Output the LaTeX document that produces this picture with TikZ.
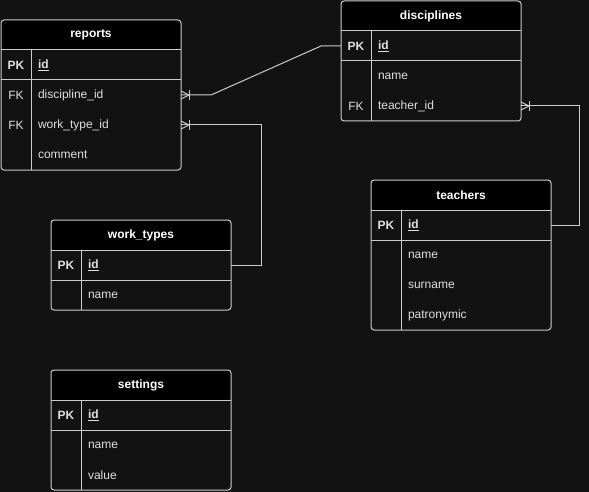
\documentclass[tikz,border=0pt]{standalone}
\usepackage{fontspec}
\setmainfont{Liberation Sans}
\usetikzlibrary{positioning}
\definecolor{canvas}{HTML}{121212}
\definecolor{wire}{HTML}{CCCCCC}
\definecolor{ink}{HTML}{E0E0E0}

\begin{document}
\begin{tikzpicture}[
    x=1pt, y=-1pt,
    every node/.style={inner sep=0pt, outer sep=0pt, text=ink, font=\fontsize{12}{14}\selectfont},
    tbl/.style={minimum width=180pt, anchor=north west},
    frame/.style={draw=wire, line width=1pt, rounded corners=3pt},
    hdr/.style={fill=black, rounded corners=3pt, minimum width=180pt, minimum height=30pt,
        anchor=north west, font=\fontsize{12}{14}\selectfont\bfseries, text=white},
    key/.style={minimum width=30pt, minimum height=30pt},
    field/.style={minimum height=30pt, text width=136pt, inner xsep=7pt, align=left},
    divider/.style={draw=wire, line width=1pt},
    link/.style={draw=wire, line width=1pt},
    crow/.pic={\draw[link] (0,-4) -- (8,0) -- (0,4); \draw[link] (8,-5) -- (8,5);}
]
\useasboundingbox (0,0) rectangle (589,492);
\fill[canvas] (0,0) rectangle (589,492);

% reports
\node[tbl, minimum height=150pt] (reports) at (1,20) {};
\node[hdr] (rep-h) at (reports.north west) {reports};
\node[key, below right=0pt of rep-h.south west] (rep-k1) {\textbf{PK}};
\node[field, right=0pt of rep-k1] (rep-f1) {\textbf{\underline{id}}};
\node[key, below=0pt of rep-k1] (rep-k2) {FK};
\node[field, right=0pt of rep-k2] (rep-f2) {discipline\_id};
\node[key, below=0pt of rep-k2] (rep-k3) {FK};
\node[field, right=0pt of rep-k3] (rep-f3) {work\_type\_id};
\node[key, below=0pt of rep-k3] (rep-k4) {};
\node[field, right=0pt of rep-k4] (rep-f4) {comment};
\draw[divider] (rep-h.south west) -- (rep-h.south east);
\draw[divider] (rep-k1.south west) -- (rep-f1.south east);
\draw[divider] (rep-k1.north east) -- (rep-k1.north east |- reports.south);
\draw[frame] (reports.north west) rectangle (reports.south east);

% disciplines
\node[tbl, minimum height=120pt] (disciplines) at (341,1) {};
\node[hdr] (dis-h) at (disciplines.north west) {disciplines};
\node[key, below right=0pt of dis-h.south west] (dis-k1) {\textbf{PK}};
\node[field, right=0pt of dis-k1] (dis-f1) {\textbf{\underline{id}}};
\node[key, below=0pt of dis-k1] (dis-k2) {};
\node[field, right=0pt of dis-k2] (dis-f2) {name};
\node[key, below=0pt of dis-k2] (dis-k3) {FK};
\node[field, right=0pt of dis-k3] (dis-f3) {teacher\_id};
\draw[divider] (dis-h.south west) -- (dis-h.south east);
\draw[divider] (dis-k1.south west) -- (dis-f1.south east);
\draw[divider] (dis-k1.north east) -- (dis-k1.north east |- disciplines.south);
\draw[frame] (disciplines.north west) rectangle (disciplines.south east);

% teachers
\node[tbl, minimum height=150pt] (teachers) at (371,180) {};
\node[hdr] (tea-h) at (teachers.north west) {teachers};
\node[key, below right=0pt of tea-h.south west] (tea-k1) {\textbf{PK}};
\node[field, right=0pt of tea-k1] (tea-f1) {\textbf{\underline{id}}};
\node[key, below=0pt of tea-k1] (tea-k2) {};
\node[field, right=0pt of tea-k2] (tea-f2) {name};
\node[key, below=0pt of tea-k2] (tea-k3) {};
\node[field, right=0pt of tea-k3] (tea-f3) {surname};
\node[key, below=0pt of tea-k3] (tea-k4) {};
\node[field, right=0pt of tea-k4] (tea-f4) {patronymic};
\draw[divider] (tea-h.south west) -- (tea-h.south east);
\draw[divider] (tea-k1.south west) -- (tea-f1.south east);
\draw[divider] (tea-k1.north east) -- (tea-k1.north east |- teachers.south);
\draw[frame] (teachers.north west) rectangle (teachers.south east);

% work_types
\node[tbl, minimum height=90pt] (worktypes) at (51,220) {};
\node[hdr] (wt-h) at (worktypes.north west) {work\_types};
\node[key, below right=0pt of wt-h.south west] (wt-k1) {\textbf{PK}};
\node[field, right=0pt of wt-k1] (wt-f1) {\textbf{\underline{id}}};
\node[key, below=0pt of wt-k1] (wt-k2) {};
\node[field, right=0pt of wt-k2] (wt-f2) {name};
\draw[divider] (wt-h.south west) -- (wt-h.south east);
\draw[divider] (wt-k1.south west) -- (wt-f1.south east);
\draw[divider] (wt-k1.north east) -- (wt-k1.north east |- worktypes.south);
\draw[frame] (worktypes.north west) rectangle (worktypes.south east);

% settings
\node[tbl, minimum height=120pt] (settings) at (51,370) {};
\node[hdr] (set-h) at (settings.north west) {settings};
\node[key, below right=0pt of set-h.south west] (set-k1) {\textbf{PK}};
\node[field, right=0pt of set-k1] (set-f1) {\textbf{\underline{id}}};
\node[key, below=0pt of set-k1] (set-k2) {};
\node[field, right=0pt of set-k2] (set-f2) {name};
\node[key, below=0pt of set-k2] (set-k3) {};
\node[field, right=0pt of set-k3] (set-f3) {value};
\draw[divider] (set-h.south west) -- (set-h.south east);
\draw[divider] (set-k1.south west) -- (set-f1.south east);
\draw[divider] (set-k1.north east) -- (set-k1.north east |- settings.south);
\draw[frame] (settings.north west) rectangle (settings.south east);

% relations
\draw[link] (rep-f2.east) -- ++(30,0) -- ([xshift=-20pt]dis-k1.west) -- (dis-k1.west);
\draw[link] (rep-f3.east) -| ([xshift=30pt]wt-f1.east) -- (wt-f1.east);
\draw[link] (dis-f3.east) -| ([xshift=28pt]tea-f1.east) -- (tea-f1.east);
\pic at (rep-f2.east) {crow};
\pic at (rep-f3.east) {crow};
\pic at (dis-f3.east) {crow};
\end{tikzpicture}
\end{document}
